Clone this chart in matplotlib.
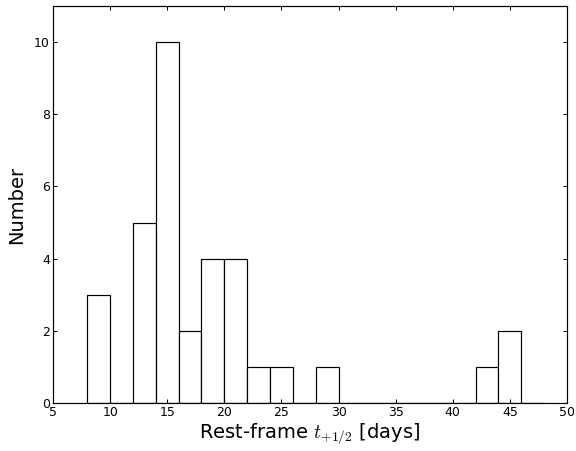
import numpy as np
import matplotlib
matplotlib.use('Agg')
import matplotlib.pyplot as plt

plt.rcParams['mathtext.fontset'] = 'cm'

# histogram of rest-frame rise times, 2-day bins from 8 to 48 days
bin_edges = [8, 10, 12, 14, 16, 18, 20, 22, 24, 26, 28, 30, 32, 34, 36, 38,
             40, 42, 44, 46, 48]
counts = [3, 0, 5, 10, 2, 4, 4, 1, 1, 0, 1, 0, 0, 0, 0, 0, 0, 1, 2, 0]

fig = plt.figure(figsize=(8, 451 / 72), dpi=72)
ax = fig.add_axes([53 / 576, 1 - 403 / 451, 514 / 576, 397 / 451])

left = np.array(bin_edges[:-1])
widths = np.diff(bin_edges)
ax.bar(left, counts, width=widths, align='edge', facecolor='white',
       edgecolor='black', linewidth=1.2)

ax.set_xlim(5, 50)
ax.set_ylim(0, 11)
ax.set_xticks(range(5, 51, 5))
ax.set_yticks(range(0, 11, 2))
ax.tick_params(direction='in', top=True, right=True, length=4, width=1,
               labelsize=12.5, pad=3)
for s in ax.spines.values():
    s.set_linewidth(1.2)

ax.set_xlabel(r'Rest-frame $t_{+1/2}$ [days]', fontsize=19.5, labelpad=2)
ax.set_ylabel('Number', fontsize=19.5, labelpad=8)

fig.savefig('out.png', dpi=72)
